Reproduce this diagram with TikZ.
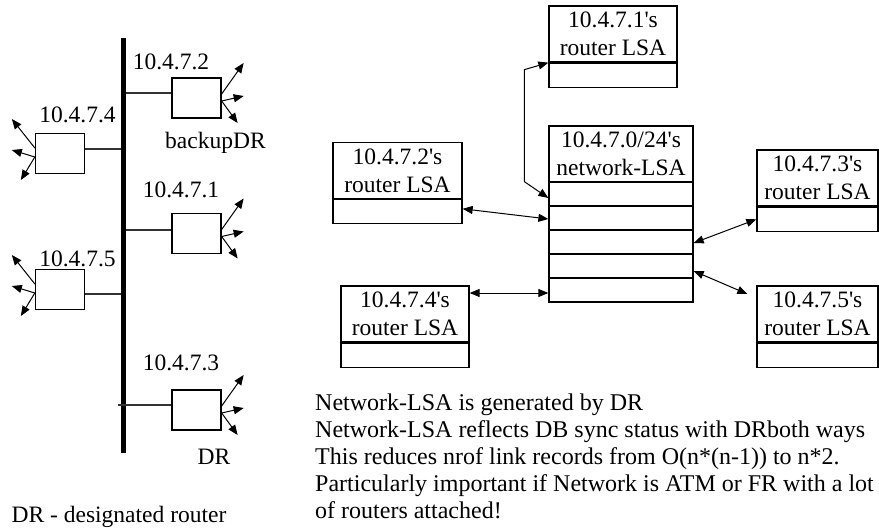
\documentclass[tikz,border=0pt]{standalone}
\usepackage{fontspec}
\setmainfont{Liberation Serif}
\usetikzlibrary{arrows.meta,positioning}
\newcommand\qsingle{\textquotesingle}
\begin{document}
\begin{tikzpicture}[x=1pt,y=-1pt,
  font=\fontsize{23.5}{28}\selectfont,
  rbox/.style={draw, line width=1.3pt, minimum width=49pt, minimum height=40pt, inner sep=0pt, fill=white},
  hdr/.style={draw, line width=1.3pt, align=center, inner sep=0pt, minimum height=56pt},
  cell/.style={draw, line width=1.3pt, inner sep=0pt, minimum height=24pt},
  wire/.style={line width=1.3pt, draw=black!80},
  rarr/.style={line width=1pt, -{Triangle[length=10pt,width=8pt]}},
  link/.style={line width=1pt, {Triangle[length=10pt,width=8pt]}-{Triangle[length=10pt,width=8pt]}},
  lbl/.style={inner sep=0pt}
]
\path[use as bounding box, fill=white] (0,0) rectangle (879,530);

% ---------- shared segment (bus) with routers ----------
\node[fill=black, minimum width=5.5pt, minimum height=415pt, inner sep=0pt] (bus) at (123.5,245.5) {};

\node[rbox] (r2) at (196.5,98) {};
\node[rbox] (r1) at (196.5,233.5) {};
\node[rbox] (r3) at (196.5,410) {};
\node[rbox] (r4) at (60,153.5) {};
\node[rbox] (r5) at (60,289.5) {};

\draw[wire] ([yshift=5pt]r2.west) -- ([yshift=5pt]r2.west -| bus.east);
\draw[wire] ([yshift=3.5pt]r1.west) -- ([yshift=3.5pt]r1.west -| bus.east);
\draw[wire] ([yshift=5pt]r3.west) -- ([xshift=-3pt,yshift=5pt]r3.west -| bus.west);
\draw[wire] ([yshift=4.5pt]r4.east) -- ([yshift=4.5pt]r4.east -| bus.west);
\draw[wire] ([yshift=-4.5pt]r5.east) -- ([yshift=-4.5pt]r5.east -| bus.west);

% outgoing links of the routers on the right of the bus
\foreach \r in {r2,r1,r3}{
  \draw[rarr] ([yshift=4pt]\r.east) -- ++(22,-31);
  \draw[rarr] ([yshift=-3pt]\r.east) -- ++(22,-5);
  \draw[rarr] ([yshift=-3pt]\r.east) -- ++(16,22);
}
% outgoing links of the routers on the left of the bus
\foreach \r in {r4,r5}{
  \draw[rarr] ([yshift=5.5pt]\r.west) -- ++(-23,-29);
  \draw[rarr] ([yshift=-3.5pt]\r.west) -- ++(-23,-7);
  \draw[rarr] ([yshift=-3.5pt]\r.west) -- ++(-14,23);
}

\node[lbl] (l2) at (171,62) {10.4.7.2};
\node[lbl] (l4) at (77.5,115) {10.4.7.4};
\node[lbl] (l1) at (181,190) {10.4.7.1};
\node[lbl] (l5) at (77.5,259) {10.4.7.5};
\node[lbl] (l3) at (181,363) {10.4.7.3};
\node[lbl] (bdr) at (215.5,143) {backupDR};
\node[lbl] (dr) at (214,457) {DR};
\node[lbl] (drnote) at (119,517) {DR - designated router};

% ---------- link state database ----------
% network-LSA
\node[hdr, minimum width=144pt] (netH) at (621,154) {10.4.7.0/24\qsingle s\\network-LSA};
\foreach \i/\y in {1/194,2/218,3/242,4/266,5/290}{
  \node[cell, minimum width=144pt] (net\i) at (621,\y) {};
}
% router-LSAs
\node[hdr, minimum width=128pt] (a1h) at (613,34) {10.4.7.1\qsingle s\\router LSA};
\node[cell, minimum width=128pt, below=0pt of a1h] (a1c) {};
\node[hdr, minimum width=129pt] (a2h) at (397.5,170.5) {10.4.7.2\qsingle s\\router LSA};
\node[cell, minimum width=129pt, below=0pt of a2h] (a2c) {};
\node[hdr, minimum width=128pt] (a4h) at (405,314) {10.4.7.4\qsingle s\\router LSA};
\node[cell, minimum width=128pt, below=0pt of a4h] (a4c) {};
\node[hdr, minimum width=121pt] (a3h) at (817.5,178) {10.4.7.3\qsingle s\\router LSA};
\node[cell, minimum width=121pt, below=0pt of a3h] (a3c) {};
\node[hdr, minimum width=121pt] (a5h) at (817.5,314) {10.4.7.5\qsingle s\\router LSA};
\node[cell, minimum width=121pt, below=0pt of a5h] (a5c) {};

% references between the LSAs
\draw[link] (a1h.south west) -- ++(-24,7) -- ++(0,112) -- ([yshift=-4pt]net1.west);
\draw[link] ([yshift=3pt]a2c.east) -- ([yshift=-1pt]net2.west);
\draw[link] ([yshift=-3pt]net5.west) -- ([yshift=-3pt]net5.west -| a4h.east);
\draw[link] ([yshift=-1pt]net3.east) -- (a3c.west);
\draw[link] ([yshift=-5pt]net4.east) -- ([xshift=-9pt,yshift=20pt]a5h.west);

% ---------- notes ----------
\node[lbl, anchor=north west, align=left, font=\fontsize{24}{26.8}\selectfont] (notes) at (315,394) {%
Network-LSA is generated by DR\\
Network-LSA reflects DB sync status with DRboth ways\\
This reduces nrof link records from O(n*(n-1)) to n*2.\\
Particularly important if Network is ATM or FR with a lot\\
of routers attached!};
\end{tikzpicture}
\end{document}
